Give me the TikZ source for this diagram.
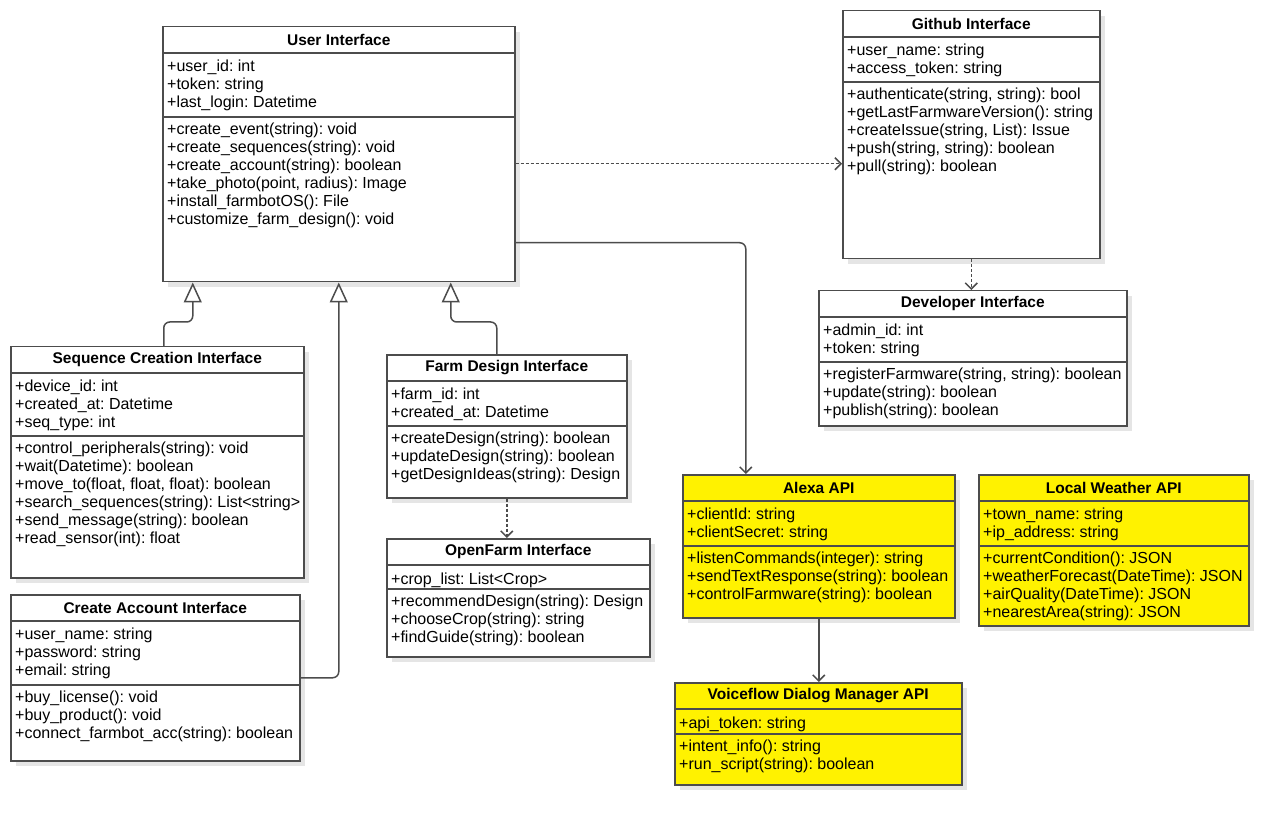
\documentclass[tikz,border=0pt]{standalone}
\usepackage{fontspec}
\setmainfont{Liberation Sans}
\usetikzlibrary{arrows.meta,shadows,positioning}
\frenchspacing

\tikzset{
  classbox/.style={draw=black!70,line width=1.5pt,fill=white,anchor=north west,inner sep=0pt,
    drop shadow={shadow xshift=5pt,shadow yshift=-5pt,fill=black!10,opacity=1}},
  apibox/.style={classbox,fill=yellow},
  classname/.style={inner sep=0pt,font=\fontsize{15.5}{18}\selectfont\bfseries},
  members/.style={anchor=north west,align=left,inner sep=0pt,font=\fontsize{16}{18}\selectfont,
    execute at begin node=\strut},
  sepline/.style={draw=black!70,line width=1.5pt},
  inherit/.style={draw=black!70,line width=1.5pt,rounded corners=6pt,
    -{Triangle[open,fill=white,width=18pt,length=20pt]}},
  depend/.style={draw=black!70,line width=1.5pt,dash pattern=on 3pt off 2pt,
    -{Straight Barb[length=6pt,width=12pt]}},
  assoc/.style={draw=black!70,line width=1.5pt,rounded corners=6pt,
    -{Straight Barb[length=6pt,width=12pt]}}
}

\begin{document}
\begin{tikzpicture}[x=1pt,y=-1pt]
\useasboundingbox (0,0) rectangle (1288,826);
\fill[white] (0,0) rectangle (1288,826);

% User Interface
\node[classbox,minimum width=352pt,minimum height=255pt] (user) at (162,26) {};
\node[classname] at ([yshift=-13.5pt]user.north) {User Interface};
\draw[sepline] ([yshift=-27pt]user.north west) -- ([yshift=-27pt]user.north east);
\draw[sepline] ([yshift=-91pt]user.north west) -- ([yshift=-91pt]user.north east);
\node[members] at ([xshift=5pt,yshift=-34pt]user.north west) {+user\_id: int\\+token: string\\+last\_login: Datetime};
\node[members] at ([xshift=5pt,yshift=-96.4pt]user.north west) {+create\_event(string): void\\+create\_sequences(string): void\\+create\_account(string): boolean\\+take\_photo(point, radius): Image\\+install\_farmbotOS(): File\\+customize\_farm\_design(): void};

% Github Interface
\node[classbox,minimum width=257pt,minimum height=248pt] (github) at (842,10) {};
\node[classname] at ([yshift=-13.5pt]github.north) {Github Interface};
\draw[sepline] ([yshift=-27pt]github.north west) -- ([yshift=-27pt]github.north east);
\draw[sepline] ([yshift=-72pt]github.north west) -- ([yshift=-72pt]github.north east);
\node[members] at ([xshift=5pt,yshift=-34pt]github.north west) {+user\_name: string\\+access\_token: string};
\node[members] at ([xshift=5pt,yshift=-77.4pt]github.north west) {+authenticate(string, string): bool\\+getLastFarmwareVersion(): string\\+createIssue(string, List): Issue\\+push(string, string): boolean\\+pull(string): boolean};

% Developer Interface
\node[classbox,minimum width=308pt,minimum height=135pt] (dev) at (818,290) {};
\node[classname] at ([yshift=-13.5pt]dev.north) {Developer Interface};
\draw[sepline] ([yshift=-27pt]dev.north west) -- ([yshift=-27pt]dev.north east);
\draw[sepline] ([yshift=-72pt]dev.north west) -- ([yshift=-72pt]dev.north east);
\node[members] at ([xshift=5pt,yshift=-34pt]dev.north west) {+admin\_id: int\\+token: string};
\node[members] at ([xshift=5pt,yshift=-77.4pt]dev.north west) {+registerFarmware(string, string): boolean\\+update(string): boolean\\+publish(string): boolean};

% Sequence Creation Interface
\node[classbox,minimum width=293pt,minimum height=231pt] (seq) at (10,346) {};
\node[classname] at ([yshift=-13.5pt]seq.north) {Sequence Creation Interface};
\draw[sepline] ([yshift=-27pt]seq.north west) -- ([yshift=-27pt]seq.north east);
\draw[sepline] ([yshift=-90pt]seq.north west) -- ([yshift=-90pt]seq.north east);
\node[members] at ([xshift=5pt,yshift=-34pt]seq.north west) {+device\_id: int\\+created\_at: Datetime\\+seq\_type: int};
\node[members] at ([xshift=5pt,yshift=-95.4pt]seq.north west) {+control\_peripherals(string): void\\+wait(Datetime): boolean\\+move\_to(float, float, float): boolean\\+search\_sequences(string): List<string>\\+send\_message(string): boolean\\+read\_sensor(int): float};

% Farm Design Interface
\node[classbox,minimum width=240pt,minimum height=143pt] (farm) at (386,354) {};
\node[classname] at ([yshift=-13.5pt]farm.north) {Farm Design Interface};
\draw[sepline] ([yshift=-27pt]farm.north west) -- ([yshift=-27pt]farm.north east);
\draw[sepline] ([yshift=-72pt]farm.north west) -- ([yshift=-72pt]farm.north east);
\node[members] at ([xshift=5pt,yshift=-34pt]farm.north west) {+farm\_id: int\\+created\_at: Datetime};
\node[members] at ([xshift=5pt,yshift=-77.4pt]farm.north west) {+createDesign(string): boolean\\+updateDesign(string): boolean\\+getDesignIdeas(string): Design};

% OpenFarm Interface
\node[classbox,minimum width=263pt,minimum height=118pt] (open) at (386,538) {};
\node[classname] at ([yshift=-13.5pt]open.north) {OpenFarm Interface};
\draw[sepline] ([yshift=-27pt]open.north west) -- ([yshift=-27pt]open.north east);
\draw[sepline] ([yshift=-51pt]open.north west) -- ([yshift=-51pt]open.north east);
\node[members] at ([xshift=5pt,yshift=-34pt]open.north west) {+crop\_list: List<Crop>};
\node[members] at ([xshift=5pt,yshift=-56.4pt]open.north west) {+recommendDesign(string): Design\\+chooseCrop(string): string\\+findGuide(string): boolean};

% Create Account Interface
\node[classbox,minimum width=289pt,minimum height=166pt] (acct) at (10,594) {};
\node[classname] at ([yshift=-13.5pt]acct.north) {Create Account Interface};
\draw[sepline] ([yshift=-27pt]acct.north west) -- ([yshift=-27pt]acct.north east);
\draw[sepline] ([yshift=-91pt]acct.north west) -- ([yshift=-91pt]acct.north east);
\node[members] at ([xshift=5pt,yshift=-34pt]acct.north west) {+user\_name: string\\+password: string\\+email: string};
\node[members] at ([xshift=5pt,yshift=-96.4pt]acct.north west) {+buy\_license(): void\\+buy\_product(): void\\+connect\_farmbot\_acc(string): boolean};

% Alexa API
\node[apibox,minimum width=272pt,minimum height=143pt] (alexa) at (682,474) {};
\node[classname] at ([yshift=-13.5pt]alexa.north) {Alexa API};
\draw[sepline] ([yshift=-27pt]alexa.north west) -- ([yshift=-27pt]alexa.north east);
\draw[sepline] ([yshift=-72pt]alexa.north west) -- ([yshift=-72pt]alexa.north east);
\node[members] at ([xshift=5pt,yshift=-34pt]alexa.north west) {+clientId: string\\+clientSecret: string};
\node[members] at ([xshift=5pt,yshift=-77.4pt]alexa.north west) {+listenCommands(integer): string\\+sendTextResponse(string): boolean\\+controlFarmware(string): boolean};

% Local Weather API
\node[apibox,minimum width=270pt,minimum height=151pt] (weather) at (978,474) {};
\node[classname] at ([yshift=-13.5pt]weather.north) {Local Weather API};
\draw[sepline] ([yshift=-27pt]weather.north west) -- ([yshift=-27pt]weather.north east);
\draw[sepline] ([yshift=-72pt]weather.north west) -- ([yshift=-72pt]weather.north east);
\node[members] at ([xshift=5pt,yshift=-34pt]weather.north west) {+town\_name: string\\+ip\_address: string};
\node[members] at ([xshift=5pt,yshift=-77.4pt]weather.north west) {+currentCondition(): JSON\\+weatherForecast(DateTime): JSON\\+airQuality(DateTime): JSON\\+nearestArea(string): JSON};

% Voiceflow Dialog Manager API
\node[apibox,minimum width=287pt,minimum height=102pt] (voice) at (674,682) {};
\node[classname] at ([yshift=-13.5pt]voice.north) {Voiceflow Dialog Manager API};
\draw[sepline] ([yshift=-27pt]voice.north west) -- ([yshift=-27pt]voice.north east);
\draw[sepline] ([yshift=-52pt]voice.north west) -- ([yshift=-52pt]voice.north east);
\node[members] at ([xshift=5pt,yshift=-34pt]voice.north west) {+api\_token: string};
\node[members] at ([xshift=5pt,yshift=-57.4pt]voice.north west) {+intent\_info(): string\\+run\_script(string): boolean};

% connectors
\draw[inherit] ([xshift=6.5pt]seq.north) -- ++(0,-24) -| ([xshift=-146pt]user.south);
\draw[inherit] (acct.east) -| (user.south);
\draw[inherit] ([xshift=-10pt]farm.north) -- ++(0,-32) -| ([xshift=112pt]user.south);
\coordinate (ugit) at ([yshift=-9.5pt]user.east);
\draw[depend] (ugit) -- (ugit -| github.west);
\draw[assoc] ([yshift=-88.5pt]user.east) -| ([xshift=-73pt]alexa.north);
\draw[depend] (github.south) -- (github.south |- dev.north);
\draw[depend] (farm.south) -- (farm.south |- open.north);
\draw[assoc] (alexa.south) -- (alexa.south |- voice.north);
\end{tikzpicture}
\end{document}
